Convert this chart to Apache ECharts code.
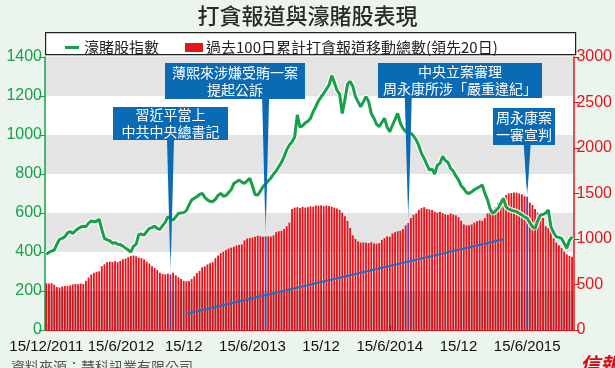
<!DOCTYPE html>
<html><head><meta charset="utf-8">
<script src="https://cdn.jsdelivr.net/npm/echarts@6/dist/echarts.min.js"></script>
<style>html,body{margin:0;padding:0;background:#ebf5ee;}#c{width:615px;height:368px;}</style>
</head><body><div id="c"></div>
<script>
// ---- data ----
const startDate = '2011-12-15';
const weekCount = 200;
const xTickIndex = [0, 26, 52, 78, 104, 130, 156, 182];
const xTickLabels = ['15/12/2011', '15/6/2012', '15/12', '15/6/2013', '15/12', '15/6/2014', '15/12', '15/6/2015'];
const leftTicks = [0, 1400, 200];
const rightTicks = [0, 3000, 500];
const seriesNames = ['濠賭股指數', '過去100日累計打貪報道移動總數(領先20日)'];
const reportTotals = [
513,510,515,498,472,466,478,484,482,490,
500,506,502,510,506,540,575,610,628,640,
645,700,722,745,752,748,755,745,760,778,
785,800,812,818,810,795,790,775,752,730,
700,680,660,630,615,612,620,610,630,600,
580,560,540,535,538,560,590,625,650,690,
700,720,735,745,790,820,845,860,880,895,
905,915,930,935,940,985,1005,1010,1015,1025,
1035,1030,1025,1028,1030,1026,1040,1075,1085,1090,
1110,1140,1180,1330,1345,1350,1340,1355,1345,1350,
1360,1355,1368,1365,1370,1360,1368,1362,1355,1345,
1335,1320,1290,1250,1200,1120,1040,1000,975,960,
962,958,955,965,950,948,955,990,1010,1030,
1025,1060,1075,1085,1090,1110,1150,1175,1230,1265,
1280,1320,1340,1350,1330,1325,1320,1300,1290,1300,
1285,1270,1265,1280,1270,1260,1240,1200,1160,1150,
1150,1160,1180,1195,1205,1200,1230,1280,1320,1330,
1350,1400,1440,1460,1480,1500,1505,1510,1508,1500,
1490,1470,1465,1400,1375,1330,1290,1265,1230,1140,
1120,1080,1010,960,930,900,860,830,815,805];
const casinoIndex = [
388,398,405,410,440,465,470,478,498,505,
495,508,520,528,532,530,548,560,555,558,
568,515,470,462,458,445,448,440,438,430,
420,410,400,430,440,490,492,487,505,521,
525,533,520,516,535,552,581,570,564,580,
598,600,602,612,640,667,676,684,695,701,
680,667,660,658,670,690,701,686,690,705,
720,752,760,769,758,752,765,778,740,695,
692,712,735,748,765,780,800,815,838,860,
889,925,949,965,990,1103,1040,1048,1062,1070,
1086,1120,1145,1175,1195,1214,1235,1256,1305,1270,
1230,1210,1110,1180,1260,1275,1250,1197,1170,1145,
1170,1197,1171,1110,1086,1055,1043,1065,1086,1040,
1017,1050,1080,1111,1060,1034,1017,1012,1009,995,
975,945,905,880,850,820,825,800,845,855,
890,870,860,830,815,790,770,740,725,705,
700,709,720,727,735,744,700,667,620,598,
610,624,650,675,632,620,615,610,607,598,
590,580,573,550,530,521,560,590,592,600,
615,530,500,478,475,470,445,419,460,478];
const eventIndex = [47, 83, 137, 182];
const eventTexts = ['習近平當上\n中共中央總書記', '薄熙來涉嫌受賄一案\n提起公訴', '中央立案審理\n周永康所涉「嚴重違紀」', '周永康案\n一審宣判'];
const trendStart = [53, 178];
const trendEnd = [173, 997];

// categories (weekly dates)
const categories = [];
{
  const d0 = new Date(startDate + 'T00:00:00Z');
  for (let i = 0; i < weekCount; i++) {
    const d = new Date(d0.getTime() + i * 7 * 86400000);
    categories.push(d.toISOString().slice(0, 10));
  }
}

const GREEN = '#17a04a', RED = '#e8141c', BLUE = '#0b6ab4';
const NUMFONT = "'Liberation Sans',Arial,sans-serif";
const CJK = "'Noto Sans CJK TC','Noto Sans CJK SC',sans-serif";

const chart = echarts.init(document.getElementById('c'), null, {renderer: 'canvas'});
const tickFn = (i) => xTickIndex.indexOf(i) >= 0;
const mainLabelFn = (i) => i !== xTickIndex[0] && tickFn(i);
const firstLabelFn = (i) => i === xTickIndex[0];
const labelText = (v, i) => {
  const k = xTickIndex.indexOf(i);
  if (k < 0) return '';
  return k === 1 ? '{s|' + xTickLabels[k] + '}' : xTickLabels[k];
};
const xLabelStyle = {
  margin: 9, color: '#111', fontSize: 15, fontFamily: NUMFONT, hideOverlap: false, formatter: labelText,
  rich: {s: {padding: [0, 0, 0, 12], color: '#111', fontSize: 15, fontFamily: NUMFONT}}
};

const option = {
  backgroundColor: '#ebf5ee',
  animation: false,
  title: {
    text: '打貪報道與濠賭股表現', left: 'center', top: 0,
    textStyle: {fontFamily: CJK, fontSize: 22, fontWeight: 500, color: '#2a2a2a'}
  },
  legend: {
    left: 58, top: 35, itemWidth: 18, itemHeight: 9, itemGap: 26,
    data: [
      {name: seriesNames[0], icon: 'path://M0,0M18,9M2,3H16V6H2Z'},
      {name: seriesNames[1], icon: 'rect'}
    ],
    textStyle: {fontFamily: CJK, fontSize: 15, color: '#222', padding: [0, 0, 0, -2]}
  },
  grid: {left: 45, right: 40, top: 57, bottom: 38, containLabel: false},
  xAxis: [
    {
      type: 'category', data: categories, boundaryGap: true, position: 'bottom',
      axisLine: {lineStyle: {color: RED, width: 1}},
      axisTick: {show: true, inside: true, length: 5, alignWithLabel: true, interval: tickFn, lineStyle: {color: '#222'}},
      axisLabel: Object.assign({interval: mainLabelFn}, xLabelStyle),
      splitLine: {show: false}
    },
    {
      type: 'category', data: categories, boundaryGap: true, position: 'bottom', offset: 0,
      axisLine: {show: false}, axisTick: {show: false},
      axisLabel: Object.assign({interval: firstLabelFn, showMinLabel: true}, xLabelStyle),
      splitLine: {show: false}
    }
  ],
  yAxis: [
    {
      type: 'value', min: leftTicks[0], max: leftTicks[1], interval: leftTicks[2], position: 'left',
      axisLine: {show: true, lineStyle: {color: GREEN, width: 1.5}},
      axisTick: {show: true, length: 6, lineStyle: {color: GREEN}},
      axisLabel: {color: GREEN, fontSize: 16, fontFamily: NUMFONT, margin: 3, formatter: (v) => String(v)},
      splitLine: {show: false},
      splitArea: {show: true, areaStyle: {color: ['#e4e4e4', '#ffffff']}}
    },
    {
      type: 'value', min: rightTicks[0], max: rightTicks[1], interval: rightTicks[2], position: 'right',
      axisLine: {show: true, lineStyle: {color: RED, width: 1.5}},
      axisTick: {show: true, length: 6, lineStyle: {color: RED}},
      axisLabel: {color: RED, fontSize: 16, fontFamily: NUMFONT, margin: 3, formatter: (v) => String(v)},
      splitLine: {show: false}
    }
  ],
  series: [
    {
      name: seriesNames[1], type: 'bar', xAxisIndex: 0, yAxisIndex: 1, z: 2,
      barCategoryGap: '30%',
      itemStyle: {color: RED},
      data: reportTotals.map((v, i) => eventIndex.indexOf(i) >= 0 ? {value: v, itemStyle: {color: '#6a3f9e'}} : v),
      markLine: {
        silent: true, symbol: ['none', 'arrow'], symbolSize: [0, 11],
        label: {show: false},
        lineStyle: {color: '#1c6fc4', width: 2, type: 'solid'},
        data: [[{coord: [categories[trendStart[0]], trendStart[1]]}, {coord: [categories[trendEnd[0]], trendEnd[1]]}]]
      }
    },
    {
      name: 'halo', type: 'line', xAxisIndex: 0, yAxisIndex: 0, z: 3, data: casinoIndex,
      symbol: 'none', lineStyle: {color: 'rgba(255,255,255,0.9)', width: 5.5}, silent: true,
      markArea: {
        silent: true, z: 3,
        itemStyle: {color: 'rgba(0,0,0,0.09)'},
        data: [[{yAxis: 0}, {yAxis: 200}]]
      }
    },
    {
      name: seriesNames[0], type: 'line', xAxisIndex: 0, yAxisIndex: 0, z: 4, data: casinoIndex,
      symbol: 'none', color: GREEN, lineStyle: {color: GREEN, width: 3}, itemStyle: {color: GREEN}
    }
  ]
};
chart.setOption(option);

// ---- callouts, legend frame, footer ----
const boxes = [
  {x: 113, y: 107, w: 115, h: 33},
  {x: 165, y: 63, w: 140, h: 36},
  {x: 378, y: 63, w: 164, h: 35},
  {x: 493, y: 108, w: 62, h: 37}
];
const elems = [
  {type: 'rect', left: 45, top: 32, shape: {x: 0, y: 0, width: 530, height: 22}, style: {fill: '#fff', stroke: '#222', lineWidth: 1.2}, z: -1}
];
eventIndex.forEach((idx, k) => {
  const tip = chart.convertToPixel({seriesIndex: 0}, [categories[idx], reportTotals[idx]]);
  const b = boxes[k];
  const bottom = b.y + b.h;
  elems.push({
    type: 'polygon', z: 100,
    shape: {points: [[tip[0] - 3.5, bottom - 1], [tip[0] + 3.5, bottom - 1], [tip[0], tip[1]]]},
    style: {fill: new echarts.graphic.LinearGradient(0, 0, 0, 1, [{offset: 0, color: BLUE}, {offset: 0.8, color: BLUE}, {offset: 1, color: 'rgba(140,180,230,0.6)'}])}
  });
  elems.push({
    type: 'rect', z: 101, shape: {x: b.x, y: b.y, width: b.w, height: b.h}, style: {fill: BLUE}
  });
  elems.push({
    type: 'text', z: 102, x: b.x + b.w / 2, y: b.y + b.h / 2,
    style: {text: eventTexts[k], fill: '#fff', font: '14px ' + CJK, align: 'center', verticalAlign: 'middle', lineHeight: 17}
  });
});
elems.push({type: 'text', left: 11, top: 360, style: {text: '資料來源：慧科訊業有限公司', fill: '#555', font: '14px ' + CJK}});
elems.push({type: 'text', left: 580, top: 354, style: {text: '信報', fill: '#e60012', font: 'italic bold 20px ' + CJK}});
chart.setOption({graphic: elems});
</script></body></html>
